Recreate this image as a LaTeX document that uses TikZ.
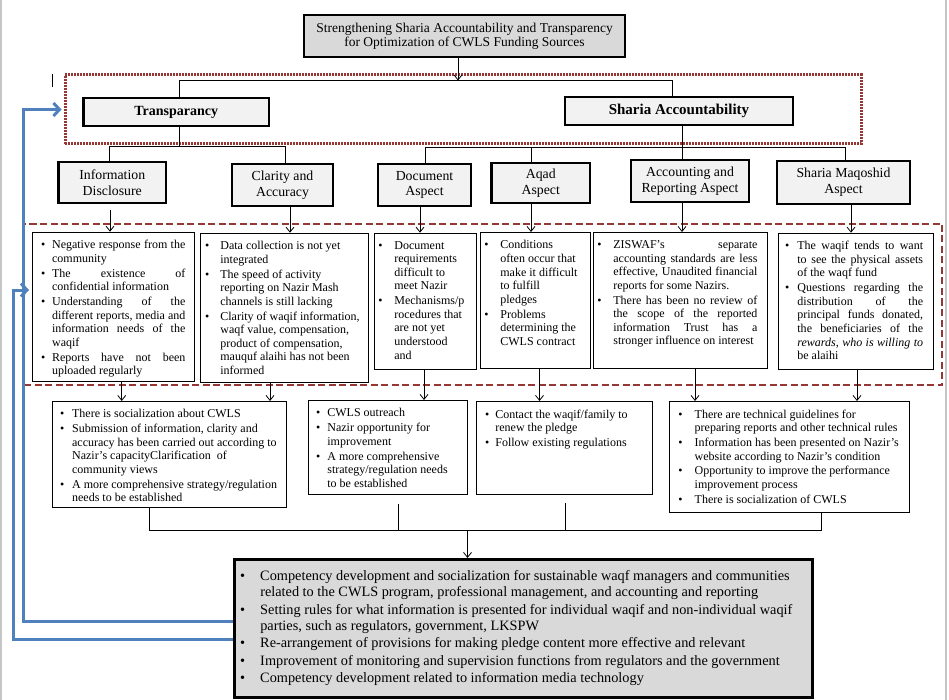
\documentclass[tikz,border=0pt]{standalone}
\usepackage{fontspec}
\setmainfont{Liberation Serif}
\usetikzlibrary{arrows.meta,calc}
\definecolor{hdrfill}{HTML}{F2F2F2}
\definecolor{darkfill}{HTML}{D9D9D9}
\definecolor{frred}{HTML}{953735}
\definecolor{fbblue}{HTML}{4F81BD}
\newlength\bul
\newcommand\lb{\linebreak}
\newcommand\bi[1]{\par\hangindent\bul\hangafter1\noindent\makebox[\bul][l]{\textbullet}#1}
% L, parwidth, R, height, top, bulletindent, content
\newcommand\tbx[7]{\hspace*{#1pt}\parbox[t][#4pt][t]{#2pt}{\setlength\bul{#6pt}\fontsize{12}{13.6}\selectfont\setlength\parskip{1.2pt}\vspace*{#5pt}#7}\hspace*{#3pt}}
\begin{document}
\begin{tikzpicture}[x=1pt,y=-1pt,
  conn/.style={line width=0.8pt},
  arr/.style={line width=0.8pt,-{Straight Barb[length=5pt,width=8pt]}},
  hdr/.style={draw,line width=2.2pt,fill=hdrfill,align=center,inner sep=0pt,font=\fontsize{13.8}{15.7}\selectfont},
  tbox/.style={draw,line width=0.8pt,inner sep=0pt,anchor=north west},
  fback/.style={draw=fbblue,line width=3pt,-{Straight Barb[length=6pt,width=13pt]}},
]
\useasboundingbox (0,0) rectangle (949,700);
\fill[white] (0,0) rectangle (949,700);
\draw[gray!45,line width=2pt] (1,0) -- (1,700);
\draw[gray!45,line width=2pt] (946,0) -- (946,700);

% frames
\node[draw=frred,line width=3pt,dash pattern=on 1.6pt off 1.4pt,minimum width=796pt,minimum height=69pt,inner sep=0pt] (frA) at (463,109.5) {};
\node[draw=frred,line width=2pt,dash pattern=on 7pt off 3.5pt,minimum width=918pt,minimum height=161pt,inner sep=0pt] (frB) at (483,304.5) {};
\draw[line width=1.3pt] (52.7,74) -- (52.7,87);

% title and headers
\node[draw,line width=2.6pt,fill=darkfill,align=center,inner sep=0pt,minimum width=321pt,minimum height=42pt,font=\fontsize{13.5}{14.3}\selectfont] (title) at (464.5,36) {Strengthening Sharia Accountability and Transparency\\for Optimization of CWLS Funding Sources};
\node[hdr,minimum width=185.5pt,minimum height=28pt,font=\fontsize{14}{16}\selectfont\bfseries] (trans) at (176.25,112) {Transparancy};
\node[hdr,minimum width=228pt,minimum height=28pt,font=\fontsize{15}{16}\selectfont\bfseries] (sa) at (679,111) {Sharia Accountability};
\node[hdr,minimum width=107.5pt,minimum height=41pt] (id) at (112.25,182.5) {Information\\Disclosure};
\node[hdr,minimum width=101pt,minimum height=42pt] (ca) at (282.5,185) {Clarity and\\Accuracy};
\node[hdr,minimum width=93pt,minimum height=42pt] (da) at (424.5,185) {Document\\Aspect};
\node[hdr,minimum width=98.5pt,minimum height=40pt] (aa) at (540.75,183) {Aqad\\Aspect};
\node[hdr,minimum width=118pt,minimum height=42pt] (ar) at (690,181) {Accounting and\\Reporting Aspect};
\node[hdr,minimum width=133pt,minimum height=43pt] (sm) at (843.5,182.5) {Sharia Maqoshid\\Aspect};

% issue boxes
\node[tbox] (p1) at (32.3,231.7) {\tbx{8.3}{144.4}{9}{149.3}{7}{11.1}{%
\bi{Negative response from the\lb community}%
\bi{The existence of\lb confidential information}%
\bi{Understanding of the\lb different reports, media and\lb information needs of the\lb waqif}%
\bi{Reports have not been\lb uploaded regularly}}};
\node[tbox] (p2) at (200,232.7) {\tbx{4.6}{157.4}{6}{149}{7}{15.4}{\raggedright
\bi{Data collection is not yet\lb integrated}%
\bi{The speed of activity\lb reporting on Nazir Mash\lb channels is still lacking}%
\bi{Clarity of waqif information,\lb waqf value, compensation,\lb product of compensation,\lb mauquf alaihi has not been\lb informed}}};
\node[tbox] (p3) at (374.3,232.7) {\tbx{3.6}{93.1}{4.7}{136.3}{7}{16.1}{\raggedright
\bi{Document\lb requirements\lb difficult to\lb meet Nazir}%
\bi{Mechanisms/p\lb rocedures that\lb are not yet\lb understood\lb and}}};
\node[tbox] (p4) at (480.3,232) {\tbx{3.6}{102.1}{4}{136}{7}{16.1}{\raggedright
\bi{Conditions\lb often occur that\lb make it difficult\lb to fulfill\lb pledges}%
\bi{Problems\lb determining the\lb CWLS contract}}};
\node[tbox] (p5) at (593,232) {\tbx{3.9}{160.1}{10}{136}{7}{16.1}{%
\bi{ZISWAF's separate\lb accounting standards are less\lb effective, Unaudited financial\lb reports for some Nazirs.}%
\bi{There has been no review of\lb the scope of the reported\lb information Trust has a\lb stronger influence on interest}}};
\node[tbox] (p6) at (777.7,232.7) {\tbx{6.9}{138.1}{10}{136.3}{7}{12.4}{%
\bi{The waqif tends to want\lb to see the physical assets\lb of the waqf fund}%
\bi{Questions regarding the\lb distribution of the\lb principal funds donated,\lb the beneficiaries of the\lb \textit{rewards, who is willing to}\lb be alaihi}}};

% result boxes
\node[tbox] (rA) at (51.7,401) {\tbx{7.9}{220.4}{5.7}{106}{7}{12.1}{\raggedright
\bi{There is socialization about CWLS}%
\bi{Submission of information, clarity and\lb accuracy has been carried out according to\lb Nazir's capacityClarification\ \ of\lb community views}%
\bi{A more comprehensive strategy/regulation\lb needs to be established}}};
\node[tbox] (rB) at (307.7,400) {\tbx{7.9}{146.4}{5}{94}{7}{11.4}{\raggedright
\bi{CWLS outreach}%
\bi{Nazir opportunity for\lb improvement}%
\bi{A more comprehensive\lb strategy/regulation needs\lb to be established}}};
\node[tbox] (rC) at (475.7,401) {\tbx{8.9}{162.4}{4.7}{93}{7}{10.4}{\raggedright
\bi{Contact the waqif/family to\lb renew the pledge}%
\bi{Follow existing regulations}}};
\node[tbox] (rD) at (669,401) {\tbx{8.9}{226.1}{5}{111}{7}{16.4}{\raggedright
\bi{There are technical guidelines for\lb preparing reports and other technical rules}%
\bi{Information has been presented on Nazir's\lb website according to Nazir's condition}%
\bi{Opportunity to improve the performance\lb improvement process}%
\bi{There is socialization of CWLS}}};

% bottom box
\node[tbox,line width=2.5pt,fill=darkfill] (bot) at (233,558) {\tbx{5.9}{567.1}{5}{138}{10.5}{20.1}{\raggedright\fontsize{14.3}{16.8}\selectfont\setlength\parskip{0.3pt}%
\bi{Competency development and socialization for sustainable waqf managers and communities\lb related to the CWLS program, professional management, and accounting and reporting}%
\bi{Setting rules for what information is presented for individual waqif and non-individual waqif\lb parties, such as regulators, government, LKSPW}%
\bi{Re-arrangement of provisions for making pledge content more effective and relevant}%
\bi{Improvement of monitoring and supervision functions from regulators and the government}%
\bi{Competency development related to information media technology}}};

% top connectors
\coordinate (j0) at (458,80.5);
\coordinate (tL) at (179,80.5);
\coordinate (tR) at (672.5,80.5);
\draw[arr] (title.south -| j0) -- (j0);
\draw[conn] (trans.north -| tL) -- (tL) -- (tR) -- (sa.north -| tR);
\coordinate (tB) at (179,146);
\coordinate (tBL) at (109.5,146);
\coordinate (tBR) at (285,146);
\draw[conn] (trans.south -| tB) -- (tB);
\draw[conn] (id.north -| tBL) -- (tBL) -- (tBR) -- (ca.north -| tBR);
\coordinate (sB) at (682,147);
\coordinate (sBL) at (425,147);
\coordinate (sBR) at (845,147);
\coordinate (sB2) at (531,147);
\draw[conn] (sa.south -| sB) -- (sB);
\draw[conn] (da.north -| sBL) -- (sBL) -- (sBR) -- (sm.north -| sBR);
\draw[conn] (sB2) -- (aa.north -| sB2);
\draw[conn] (sB) -- (ar.north -| sB);

% headers to issues
\coordinate (c1) at (110,0);
\coordinate (c2) at (290,0);
\coordinate (c3) at (420,0);
\coordinate (c4) at (531,0);
\coordinate (c5) at (682,0);
\coordinate (c6) at (851,0);
\draw[arr] ($(id.south -| c1)+(0,6)$) -- (p1.north -| c1);
\draw[arr] (ca.south -| c2) -- (p2.north -| c2);
\draw[arr] (da.south -| c3) -- (p3.north -| c3);
\draw[arr] (aa.south -| c4) -- (p4.north -| c4);
\draw[arr] (ar.south -| c5) -- (p5.north -| c5);
\draw[arr] (sm.south -| c6) -- (p6.north -| c6);

% issues to results
\coordinate (d1) at (121.7,0);
\coordinate (d2) at (270,0);
\coordinate (d3) at (424,0);
\coordinate (d4) at (539.5,0);
\coordinate (d5) at (695,0);
\coordinate (d6) at (857,0);
\draw[arr] (p1.south -| d1) -- (rA.north -| d1);
\draw[arr] (p2.south -| d2) -- (rA.north -| d2);
\draw[arr] (p3.south -| d3) -- (rB.north -| d3);
\draw[arr] (p4.south -| d4) -- (rC.north -| d4);
\draw[arr] (p5.south -| d5) -- (rD.north -| d5);
\draw[arr] (p6.south -| d6) -- (rD.north -| d6);

% results to bottom
\coordinate (e1) at (149,530.5);
\coordinate (e2) at (398,530.5);
\coordinate (e3) at (565,530.5);
\coordinate (e4) at (821,530.5);
\coordinate (ed) at (467.5,530.5);
\draw[conn] (rA.south -| e1) -- (e1) -- (e4) -- (rD.south -| e4);
\draw[conn] ($(rB.south -| e2)+(0,8.7)$) -- (e2);
\draw[conn] ($(rC.south -| e3)+(0,8)$) -- (e3);
\draw[arr] (ed) -- (bot.north -| ed);

% feedback arrows
\coordinate (b1) at (23.3,621.7);
\coordinate (b2) at (13.3,639);
\draw[fback] (bot.west |- b1) -- (b1) |- ($(frA.west)+(-2,0)$);
\draw[fback] (bot.west |- b2) -- (b2) |- ($(frB.west)+(6,-14.5)$);
\end{tikzpicture}
\end{document}
